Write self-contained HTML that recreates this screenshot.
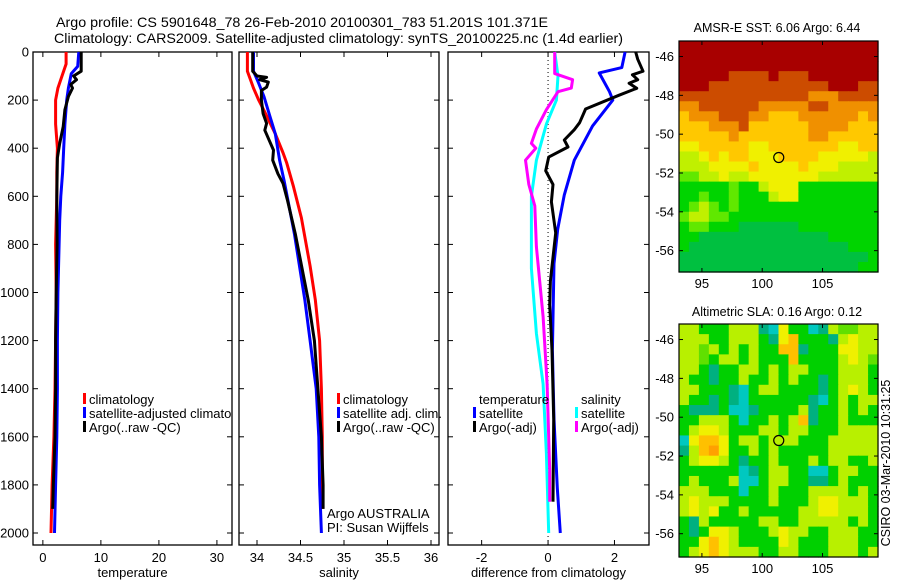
<!DOCTYPE html>
<html><head><meta charset="utf-8"><style>
html,body{margin:0;padding:0;background:#fff;}
svg{display:block;font-family:"Liberation Sans",sans-serif;}
text{font-size:13px;fill:#000;}
</style></head><body>
<svg id="chart" width="900" height="580" viewBox="0 0 900 580" xmlns="http://www.w3.org/2000/svg">
<defs><clipPath id="clip1"><rect x="33" y="52" width="199" height="493"/></clipPath></defs>
<text x="56" y="27" textLength="492" lengthAdjust="spacingAndGlyphs" style="font-size:14px">Argo profile: CS 5901648_78 26-Feb-2010 20100301_783 51.201S 101.371E</text>
<text x="54" y="43" textLength="569" lengthAdjust="spacingAndGlyphs" style="font-size:14px">Climatology: CARS2009. Satellite-adjusted climatology: synTS_20100225.nc (1.4d earlier)</text>
<text x="777" y="32" text-anchor="middle" style="font-size:12.5px">AMSR-E SST: 6.06 Argo: 6.44</text>
<text x="777" y="316" text-anchor="middle" style="font-size:12.5px">Altimetric SLA: 0.16 Argo: 0.12</text>
<text transform="translate(890,463) rotate(-90)" text-anchor="middle" style="font-size:12.5px">CSIRO 03-Mar-2010 10:31:25</text>
<g id="g"></g>
</svg>
<script>
// ---------- profile data ----------
const tClimDepth=[0,50,100,150,200,300,400,500,600,800,1000,1200,1400,1600,1800,2000];
const tClimVal=[4.0,4.0,3.3,2.6,2.2,2.2,2.5,2.4,2.4,2.2,2.3,2.2,2.1,1.9,1.6,1.4];
const tSatDepth=[0,60,90,150,200,300,400,500,600,700,800,1000,1200,1400,1600,1800,2000];
const tSatVal=[6.2,6.0,4.9,4.4,4.1,3.8,3.6,3.4,3.1,2.9,2.8,2.6,2.5,2.5,2.4,2.2,2.0];
const tArgoDepth=[0,80,100,115,135,150,185,240,310,380,440,600,800,1000,1200,1400,1600,1800,1900];
const tArgoVal=[6.6,6.6,5.3,5.8,4.8,5.1,4.4,3.8,3.5,2.9,2.5,2.4,2.45,2.3,2.2,2.2,2.1,1.8,1.7];
const sClimDepth=[0,80,120,150,200,250,340,420,460,560,690,890,1030,1200,1400,1600,1800,1900];
const sClimVal=[33.89,33.89,33.93,33.96,34.02,34.09,34.21,34.30,34.34,34.42,34.51,34.61,34.67,34.72,34.74,34.75,34.75,34.75];
const sSatDepth=[0,80,130,186,270,340,450,533,644,756,1033,1200,1400,1600,1800,2000];
const sSatVal=[33.96,33.96,34.02,34.08,34.15,34.21,34.26,34.31,34.37,34.43,34.55,34.61,34.68,34.71,34.72,34.74];
const sArgoDepth=[0,80,100,105,115,125,146,160,200,256,297,325,367,408,450,506,547,617,756,1033,1200,1400,1600,1800,1900];
const sArgoVal=[33.95,33.95,34.0,34.11,34.03,34.13,34.11,34.05,34.05,34.07,34.11,34.09,34.14,34.19,34.18,34.24,34.30,34.35,34.44,34.59,34.66,34.70,34.74,34.76,34.76];
const dTSatDepth=[0,65,87,165,200,308,450,594,737,880,1240,1527,1813,2000];
const dTSatVal=[2.32,2.22,1.54,1.85,1.95,1.34,0.79,0.49,0.29,0.18,0.13,0.18,0.28,0.37];
const dTArgoDepth=[0,30,80,95,115,130,151,180,237,294,323,366,395,437,494,551,623,752,952,1052,1240,1527,1870];
const dTArgoVal=[2.64,2.7,2.86,2.54,2.7,2.44,2.67,2.13,1.13,0.95,0.79,0.49,0.6,0.02,-0.07,0.15,0.1,0.23,0.07,0.05,0.12,0.17,0.15];
const dSSatDepth=[0,100,200,300,450,600,900,1170,1380,1670,2000];
const dSSatVal=[0.2,0.3,0.25,-0.05,-0.35,-0.5,-0.5,-0.35,-0.15,-0.05,0.02];
const dSArgoDepth=[0,90,115,150,165,240,320,380,400,450,550,640,810,1100,1380,1740,1870];
const dSArgoVal=[0.2,0.2,0.74,0.7,0.3,-0.05,-0.35,-0.5,-0.37,-0.68,-0.58,-0.4,-0.35,-0.15,-0.03,0.05,0.05];
const depthTicks=[0,200,400,600,800,1000,1200,1400,1600,1800,2000];
const tempTicks=[0,10,20,30];
const salTicks=[34,34.5,35,35.5,36];
const salTickLabels=["34","34.5","35","35.5","36"];
const diffTicks=[-2,0,2];
// ---------- map data ----------
const lonTicks=[95,100,105];
const latTicks=[-46,-48,-50,-52,-54,-56];
const argoLon=101.371, argoLat=-51.201;
const sstRows=["99999999999999999999","99999999999999999999","99999999999999999999",
"99999888898889999999","99988888888888899988","88888888888887778888","77888888777778877777",
"67778887766677777767","66677786666667777666","66666766666667766666","55666665566666665566",
"44565665556666555554","44455556555565554444","33445445555555444444","22222322455522222222",
"22322322245522222222","23432322222222222222","34433222222222222222","23322211111122222222",
"22111111111111122222","21111111111111111222","11111111111111111112","11111111111111111122"];
const slaRows=["44222444105220143344","44422444215622214544","44342424226612225544","44324424222622224543",
"44212244242442224442","42212242242422124442","44222102442222124542","42212102222221024244",
"21112001222241224242","22444202242461224222","24554222442442224444","05665244244422244444",
"14675224242222244444","24554212242224244224","22222201244220024422","24222400244221124222",
"44422202242224444242","45444222242224554442","45452242222244554442","21422222442244444242",
"21255422245442244422","22565422225422244422","24565444224422244424"];
const sstColors=["#00b060","#00c040","#00d400","#60e800","#c0f000","#f0f000","#ffc800","#f09000","#cc4c00","#a80000"];
const slaColors=["#00c8c0","#00b080","#00d000","#60e000","#b8f000","#f0f000","#ffc000","#ffa000"];

const NS="http://www.w3.org/2000/svg";
const G=document.getElementById('g');
function mk(tag,attrs,parent){const e=document.createElementNS(NS,tag);for(const k in attrs)e.setAttribute(k,attrs[k]);(parent||G).appendChild(e);return e;}
const yD=d=>52+d*0.2405;
const panels=[
 {name:'temperature',x0:33,x1:232,v0:-1.7,v1:32.6,ticks:tempTicks,labels:tempTicks.map(String),xl:'temperature'},
 {name:'salinity',x0:239,x1:439,v0:33.793,v1:36.092,ticks:salTicks,labels:salTickLabels,xl:'salinity'},
 {name:'difference',x0:448,x1:649,v0:-3.013,v1:3.04,ticks:diffTicks,labels:diffTicks.map(String),xl:'difference from climatology'}];
panels.forEach((p,i)=>{p.sx=v=>p.x0+(v-p.v0)/(p.v1-p.v0)*(p.x1-p.x0);
 const ax=mk('g',{});  
 mk('rect',{x:p.x0,y:52,width:p.x1-p.x0,height:493,fill:'none',stroke:'#000','stroke-width':1.3},ax);
 depthTicks.forEach(d=>{const y=yD(d);
  mk('line',{x1:p.x0,x2:p.x0+5,y1:y,y2:y,stroke:'#000'},ax);mk('line',{x1:p.x1-5,x2:p.x1,y1:y,y2:y,stroke:'#000'},ax);
  if(i==0){const t=mk('text',{x:p.x0-4,y:y+4.5,'text-anchor':'end'},ax);t.textContent=d;
   
   }});
 p.ticks.forEach((v,k)=>{const x=p.sx(v);
  mk('line',{x1:x,x2:x,y1:545,y2:540,stroke:'#000'},ax);mk('line',{x1:x,x2:x,y1:52,y2:57,stroke:'#000'},ax);
  const t=mk('text',{x:x,y:562,'text-anchor':'middle'},ax);t.textContent=p.labels[k];
  
  });
 const xl=mk('text',{x:(p.x0+p.x1)/2,y:577,'text-anchor':'middle'},ax);xl.textContent=p.xl;
 
 
});
const zl=mk('line',{x1:panels[2].sx(0),x2:panels[2].sx(0),y1:52,y2:545,stroke:'#000','stroke-dasharray':'1,3'});


function line(p,ds,vs,col,name){const pts=ds.map((d,k)=>p.sx(vs[k]).toFixed(1)+','+yD(d).toFixed(1)).join(' ');
 const e=mk('polyline',{points:pts,fill:'none',stroke:col,'stroke-width':3,'stroke-linejoin':'round'});
 
 }
const [P1,P2,P3]=panels;
line(P1,tClimDepth,tClimVal,'#f00','temp-climatology-line');
line(P1,tSatDepth,tSatVal,'#00f','temp-satellite-line');
line(P1,tArgoDepth,tArgoVal,'#000','temp-argo-line');
line(P2,sClimDepth,sClimVal,'#f00','sal-climatology-line');
line(P2,sSatDepth,sSatVal,'#00f','sal-satellite-line');
line(P2,sArgoDepth,sArgoVal,'#000','sal-argo-line');
line(P3,dSSatDepth,dSSatVal,'#0ff','diff-sal-satellite-line');
line(P3,dSArgoDepth,dSArgoVal,'#f0f','diff-sal-argo-line');
line(P3,dTSatDepth,dTSatVal,'#00f','diff-temp-satellite-line');
line(P3,dTArgoDepth,dTArgoVal,'#000','diff-temp-argo-line');
function legend(x,items,name,clip){const g=mk('g',{});
 if(clip)g.setAttribute('clip-path','url(#'+clip+')');
 items.forEach((it,k)=>{const y=404+k*14;
  if(it[1])mk('rect',{x:x,y:y-11,width:3,height:11,fill:it[1]},g);
  const t=mk('text',{x:x+6,y:y},g);t.textContent=it[0];
  
  });}
legend(83,[['climatology','#f00'],['satellite-adjusted climatology','#00f'],['Argo(..raw -QC)','#000']],'temp-legend','clip1');
legend(337,[['climatology','#f00'],['satellite adj. clim.','#00f'],['Argo(..raw -QC)','#000']],'sal-legend');
legend(473,[['temperature',null],['satellite','#00f'],['Argo(-adj)','#000']],'diff-temp-legend');
legend(575,[['salinity',null],['satellite','#0ff'],['Argo(-adj)','#f0f']],'diff-sal-legend');
const ta=mk('text',{x:327,y:518});ta.textContent='Argo AUSTRALIA';


const tb=mk('text',{x:327,y:532});tb.textContent='PI: Susan Wijffels';


function map(top,bot,rows,colors,name,lat0,lat1){
 const L=679,R=878,lon0=93.1,lon1=109.6;
 const sx=v=>L+(v-lon0)/(lon1-lon0)*(R-L), sy=v=>top+(lat0-v)/(lat0-lat1)*(bot-top);
 const g=mk('g',{});
 const nr=rows.length,nc=rows[0].length,cw=(R-L)/nc,ch=(bot-top)/nr;
 rows.forEach((r,i)=>{for(let j=0;j<nc;j++){const c=mk('rect',{x:(L+j*cw).toFixed(2),y:(top+i*ch).toFixed(2),width:(cw+0.6).toFixed(2),height:(ch+0.6).toFixed(2),fill:colors[+r[j]]},g);
  
  }});
 mk('rect',{x:L,y:top,width:R-L,height:bot-top,fill:'none',stroke:'#000','stroke-width':1.2},g);
 lonTicks.forEach(v=>{const x=sx(v);mk('line',{x1:x,x2:x,y1:bot,y2:bot-4,stroke:'#000'},g);mk('line',{x1:x,x2:x,y1:top,y2:top+4,stroke:'#000'},g);
  const t=mk('text',{x:x,y:bot+16,'text-anchor':'middle'},g);t.textContent=v;
  
  });
 latTicks.forEach(v=>{const y=sy(v);mk('line',{x1:L,x2:L+4,y1:y,y2:y,stroke:'#000'},g);mk('line',{x1:R-4,x2:R,y1:y,y2:y,stroke:'#000'},g);
  const t=mk('text',{x:L-5,y:y+4.5,'text-anchor':'end'},g);t.textContent=v;
  
  });
 const c=mk('circle',{cx:sx(argoLon),cy:sy(argoLat),r:5,fill:'none',stroke:'#000','stroke-width':1.2},g);
 
 
}
map(41,272,sstRows,sstColors,'sst-map',-45.2,-57.1);
map(324,557,slaRows,slaColors,'sla-map',-45.2,-57.2);
</script>
</body></html>
